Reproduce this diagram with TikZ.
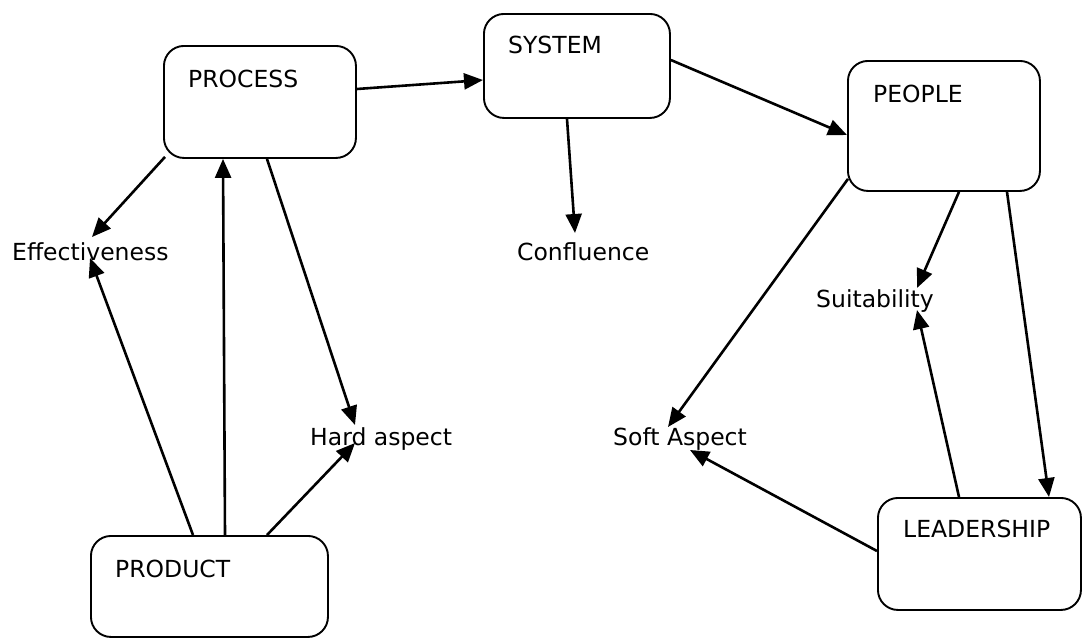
\documentclass[tikz,border=0pt]{standalone}
\usepackage{fontspec}
\setmainfont{DejaVu Sans}
\usetikzlibrary{calc,arrows.meta}
\begin{document}
\begin{tikzpicture}[x=1pt,y=-1pt,
  box/.style={draw,line width=1.9pt,rounded corners=20pt,anchor=north west,inner sep=0pt},
  lbl/.style={anchor=base west,inner sep=0pt,font=\fontsize{23.5}{27}\selectfont},
  arr/.style={line width=2.6pt,-{Triangle[length=19pt,width=16pt]}}]
\useasboundingbox (0,0) rectangle (1082,638);
% boxes
\node[box,minimum width=192pt,minimum height=112pt] (proc) at (163,45) {};
\node[box,minimum width=186pt,minimum height=104pt] (sys) at (483,13) {};
\node[box,minimum width=192pt,minimum height=130pt] (peo) at (847,60) {};
\node[box,minimum width=237pt,minimum height=101pt] (prod) at (90,535) {};
\node[box,minimum width=203pt,minimum height=112pt] (lead) at (877,497) {};
% box texts
\node[lbl] (procT) at (188,87) {PROCESS};
\node[lbl] (sysT) at (508,53) {SYSTEM};
\node[lbl] (peoT) at (873,102) {PEOPLE};
\node[lbl] (prodT) at (115,577) {PRODUCT};
\node[lbl] (leadT) at (903,537) {LEADERSHIP};
% free labels
\node[lbl] (eff) at (12,260) {Effectiveness};
\node[lbl] (conf) at (517,260) {Confluence};
\node[lbl] (hard) at (310,445) {Hard aspect};
\node[lbl] (soft) at (613,445) {Soft Aspect};
\node[lbl] (suit) at (816,307) {Suitability};
% connectors
\draw[arr] ($(proc.north east)+(0,44)$) -- ($(sys.north west)+(0,67)$);
\draw[arr] ($(sys.north east)+(0,47)$) -- ($(peo.north west)+(0,75)$);
\draw[arr] ($(sys.south west)+(84,0)$) -- ($(conf.base west)+(58,-27)$);
\draw[arr] ($(proc.south west)+(2,-2)$) -- ($(eff.base west)+(80,-23)$);
\draw[arr] ($(prod.north west)+(135,0)$) -- ($(proc.south west)+(60,0)$);
\draw[arr] ($(proc.south west)+(104,0)$) -- ($(hard.base west)+(45,-20)$);
\draw[arr] ($(prod.north west)+(103,0)$) -- ($(eff.base west)+(78,-2)$);
\draw[arr] ($(prod.north west)+(177,0)$) -- ($(hard.base west)+(45,-2)$);
\draw[arr] ($(peo.south west)+(1,-13)$) -- ($(soft.base west)+(55,-18)$);
\draw[arr] ($(peo.south west)+(112,0)$) -- ($(suit.base west)+(101,-19)$);
\draw[arr] ($(lead.north west)+(82,0)$) -- ($(suit.base west)+(101,3)$);
\draw[arr] ($(peo.south west)+(160,0)$) -- ($(lead.north west)+(172,0)$);
\draw[arr] ($(lead.north west)+(0,54)$) -- ($(soft.base west)+(77,5)$);
\end{tikzpicture}
\end{document}
